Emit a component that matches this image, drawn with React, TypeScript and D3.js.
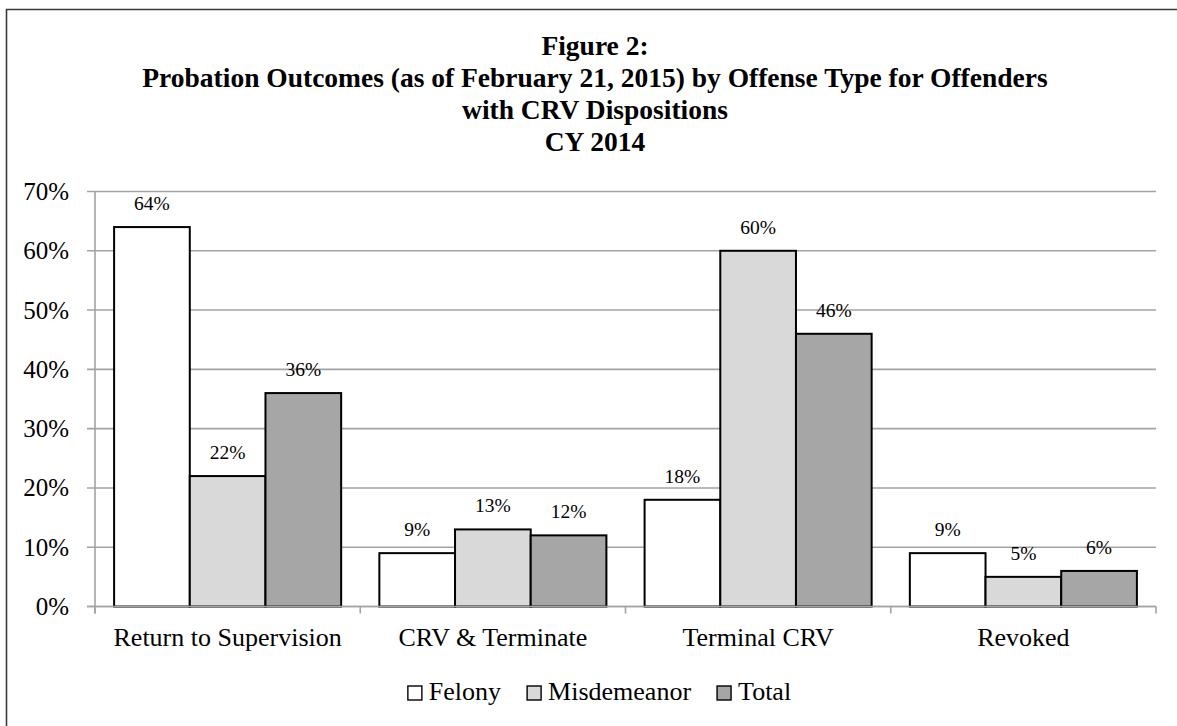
import React, { useEffect, useRef } from 'react';
import * as d3 from 'd3';

// Chart data
const categories = ['Return to Supervision', 'CRV & Terminate', 'Terminal CRV', 'Revoked'];
const seriesNames = ['Felony', 'Misdemeanor', 'Total'];
const felony = [0.64, 0.09, 0.18, 0.09];
const misdemeanor = [0.22, 0.13, 0.6, 0.05];
const total = [0.36, 0.12, 0.46, 0.06];
const yTicks = [0, 0.1, 0.2, 0.3, 0.4, 0.5, 0.6, 0.7];
const titleLines = [
  'Figure 2:',
  'Probation Outcomes (as of February 21, 2015) by Offense Type for Offenders',
  'with CRV Dispositions',
  'CY 2014',
];
const seriesFills = ['#ffffff', '#d9d9d9', '#a6a6a6'];

const W = 1177;
const H = 726;
const FONT = '"Liberation Serif", "Times New Roman", Times, serif';

export default function App() {
  const ref = useRef<SVGSVGElement | null>(null);

  useEffect(() => {
    const svg = d3.select(ref.current);
    svg.selectAll('*').remove();

    const seriesValues = [felony, misdemeanor, total];
    const rows = categories.map((c, i) => ({
      category: c,
      values: seriesNames.map((s, j) => ({ series: s, value: seriesValues[j][i], fill: seriesFills[j] })),
    }));

    const plot = { left: 95, right: 1156, top: 191.5, bottom: 606.5 };

    const y = d3.scaleLinear().domain([0, 0.7]).range([plot.bottom, plot.top]);
    const x0 = d3.scaleBand<string>().domain(categories).range([plot.left, plot.right]);
    const inset = x0.bandwidth() * 0.072;
    const x1 = d3
      .scaleBand<string>()
      .domain(seriesNames)
      .range([inset, x0.bandwidth() - inset]);

    // Outer frame
    svg
      .append('path')
      .attr('d', `M6.5,${H + 2} V9.5 H${W + 2}`)
      .attr('fill', 'none')
      .attr('stroke', '#3a3a3a')
      .attr('stroke-width', 1.6);

    // Title
    const title = svg
      .append('text')
      .attr('text-anchor', 'middle')
      .attr('font-family', FONT)
      .attr('font-weight', 'bold')
      .attr('font-size', 27.5)
      .attr('fill', '#000');
    titleLines.forEach((line, i) => {
      title
        .append('tspan')
        .attr('x', 595)
        .attr('y', 54.5 + i * 32.3)
        .text(line);
    });

    // Gridlines with left tick stubs
    const gridColor = '#a3a3a3';
    svg
      .append('g')
      .selectAll('line')
      .data(yTicks)
      .join('line')
      .attr('x1', plot.left - 8)
      .attr('x2', plot.right)
      .attr('y1', (d) => y(d))
      .attr('y2', (d) => y(d))
      .attr('stroke', gridColor)
      .attr('stroke-width', 1.6);

    // Y tick labels
    svg
      .append('g')
      .selectAll('text')
      .data(yTicks)
      .join('text')
      .attr('x', 69)
      .attr('y', (d) => y(d) + 8.5)
      .attr('text-anchor', 'end')
      .attr('font-family', FONT)
      .attr('font-size', 25)
      .attr('fill', '#000')
      .text((d) => d3.format('.0%')(d));

    // Bars
    const groups = svg
      .append('g')
      .selectAll('g')
      .data(rows)
      .join('g')
      .attr('transform', (d) => `translate(${x0(d.category)},0)`);

    groups
      .selectAll('rect')
      .data((d) => d.values)
      .join('rect')
      .attr('x', (d) => x1(d.series)!)
      .attr('y', (d) => y(d.value))
      .attr('width', x1.bandwidth())
      .attr('height', (d) => y(0) - y(d.value))
      .attr('fill', (d) => d.fill)
      .attr('stroke', '#000')
      .attr('stroke-width', 2);

    // Value labels
    groups
      .selectAll('text')
      .data((d) => d.values)
      .join('text')
      .attr('x', (d) => x1(d.series)! + x1.bandwidth() / 2)
      .attr('y', (d) => y(d.value) - 17)
      .attr('text-anchor', 'middle')
      .attr('font-family', FONT)
      .attr('font-size', 19.5)
      .attr('fill', '#000')
      .text((d) => d3.format('.0%')(d.value));

    // Axes lines and category ticks
    const axis = svg.append('g').attr('stroke', gridColor).attr('stroke-width', 1.6);
    axis
      .append('line')
      .attr('x1', plot.left)
      .attr('x2', plot.left)
      .attr('y1', plot.top)
      .attr('y2', plot.bottom + 7);
    axis
      .append('line')
      .attr('x1', plot.left - 8)
      .attr('x2', plot.right)
      .attr('y1', plot.bottom)
      .attr('y2', plot.bottom);
    const boundaries = categories.map((c) => x0(c)! + x0.bandwidth()).concat([plot.left]);
    axis
      .selectAll('line.tick')
      .data(boundaries)
      .join('line')
      .attr('class', 'tick')
      .attr('x1', (d) => d)
      .attr('x2', (d) => d)
      .attr('y1', plot.bottom)
      .attr('y2', plot.bottom + 7);

    // Category labels
    svg
      .append('g')
      .selectAll('text')
      .data(categories)
      .join('text')
      .attr('x', (d) => x0(d)! + x0.bandwidth() / 2)
      .attr('y', 646)
      .attr('text-anchor', 'middle')
      .attr('font-family', FONT)
      .attr('font-size', 26)
      .attr('fill', '#000')
      .text((d) => d);

    // Legend
    const legend = svg.append('g');
    const sw = 14;
    const gapText = 7;
    const gapItem = 26;
    const items = seriesNames.map((name, i) => {
      const g = legend.append('g');
      g.append('rect')
        .attr('x', 0)
        .attr('y', -sw)
        .attr('width', sw)
        .attr('height', sw)
        .attr('fill', seriesFills[i])
        .attr('stroke', '#000')
        .attr('stroke-width', 1.4);
      const t = g
        .append('text')
        .attr('x', sw + gapText)
        .attr('y', 0)
        .attr('font-family', FONT)
        .attr('font-size', 26)
        .attr('fill', '#000')
        .text(name);
      const w = (t.node() as SVGTextElement).getComputedTextLength();
      return { g, width: sw + gapText + w };
    });
    const totalWidth = d3.sum(items, (d) => d.width) + gapItem * (items.length - 1);
    let cx = 599.5 - totalWidth / 2;
    items.forEach((it) => {
      it.g.attr('transform', `translate(${cx},700)`);
      cx += it.width + gapItem;
    });
  }, []);

  return (
    <svg
      ref={ref}
      width={W}
      height={H}
      viewBox={`0 0 ${W} ${H}`}
      style={{ position: 'absolute', left: 0, top: 0, background: '#fff' }}
    />
  );
}
